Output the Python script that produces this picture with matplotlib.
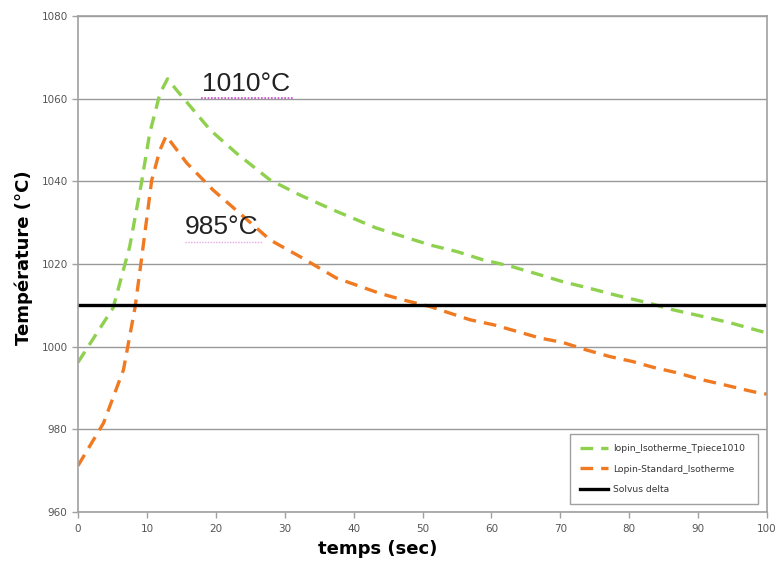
import matplotlib
matplotlib.use("Agg")
import matplotlib.pyplot as plt

plt.rcParams['font.family'] = ['DejaVu Sans']

# Data
t_green = [0, 5.1, 7.5, 9.2, 10.4, 11.9, 13.0, 14.3, 19.2, 23.0, 27.9, 32.2, 37.0, 43.3,
           51.1, 55.0, 58.8, 62.7, 66.6, 70.4, 74.3, 78.2, 82.5, 86.4, 90.7, 94.6, 100]
T_green = [996.2, 1009.4, 1024.2, 1039.5, 1051.6, 1061.3, 1064.8, 1062.1, 1052.4, 1046.8,
           1040.3, 1036.7, 1033.1, 1028.7, 1024.6, 1023.0, 1021.0, 1019.5, 1017.6, 1015.7,
           1014.1, 1012.4, 1010.7, 1008.9, 1007.3, 1005.8, 1003.3]

t_orange = [0, 3.7, 6.6, 8.3, 9.2, 10.7, 11.9, 12.8, 15.8, 19.6, 24.0, 27.9, 32.2, 37.5,
            43.8, 47.2, 51.1, 54.0, 56.9, 60.3, 63.7, 67.0, 70.4, 73.8, 77.2, 80.5, 83.5,
            86.9, 90.3, 93.7, 98.0, 100]
T_orange = [971.2, 981.5, 994.4, 1009.7, 1021.0, 1040.3, 1047.6, 1051.0, 1044.4, 1037.9,
            1031.5, 1025.8, 1021.8, 1016.6, 1012.9, 1011.3, 1009.7, 1008.1, 1006.5, 1005.3,
            1003.7, 1002.1, 1001.0, 999.2, 997.6, 996.4, 995.0, 993.7, 992.1, 990.8, 989.1,
            988.5]

solvus_t = [0, 100]
solvus_T = [1010, 1010]

labels = ["lopin_Isotherme_Tpiece1010", "Lopin-Standard_Isotherme", "Solvus delta"]
x_ticks = list(range(0, 101, 10))
y_ticks = list(range(960, 1081, 20))

fig = plt.figure(figsize=(7.77, 5.62), dpi=100)
ax = fig.add_axes([78/777, 1-512/562, 689/777, 496/562])

ax.set_xlim(0, 100)
ax.set_ylim(960, 1080)
ax.set_xticks(x_ticks)
ax.set_yticks(y_ticks)
ax.yaxis.grid(True, color='#999999', lw=1.0)
ax.set_axisbelow(True)
for s in ax.spines.values():
    s.set_color('#a0a0a0')
    s.set_linewidth(1.2)
ax.tick_params(axis='both', colors='#a0a0a0', labelcolor='#555555', labelsize=7.5,
               length=4, width=1)
ax.tick_params(axis='x', pad=5)

gl, = ax.plot(t_green, T_green, color='#8fd14f', lw=2.4, ls=(0, (3.8, 2.4)),
              label=labels[0])
ol, = ax.plot(t_orange, T_orange, color='#f07a22', lw=2.4, ls=(0, (3.8, 2.4)),
              label=labels[1])
sl, = ax.plot(solvus_t, solvus_T, color='black', lw=2.4, label=labels[2])

ax.set_xlabel("temps (sec)", fontsize=13, fontweight='bold', labelpad=3)
ax.xaxis.set_label_coords((378-78)/689, -0.057)
ax.set_ylabel("Température (°C)", fontsize=13, fontweight='bold', labelpad=8)
ax.yaxis.set_label_coords(-0.065, (512-258)/496)

ann_font = ['Liberation Sans', 'DejaVu Sans']
ax.text(24.4, 1063.6, "1010°C", fontsize=19, ha='center', va='center', color='#222222',
        family=ann_font)
ax.text(20.9, 1029.0, "985°C", fontsize=19, ha='center', va='center', color='#222222',
        family=ann_font)
ax.plot([17.8, 31.2], [1060.2, 1060.2], color='#cc44cc', lw=1.2, ls=(0, (1, 1)))
ax.plot([15.5, 26.7], [1025.4, 1025.4], color='#e8a8e8', lw=1.0, ls=(0, (1, 1)))

leg = ax.legend(handles=[gl, ol, sl], loc='lower right',
                bbox_to_anchor=(0.714, 0.016, 0.273, 0.141), mode='expand',
                borderaxespad=0, fontsize=6.6, frameon=True, fancybox=False,
                edgecolor='#888888', handlelength=3.0, borderpad=1.1,
                labelspacing=1.25, handletextpad=0.6)
leg.get_frame().set_linewidth(1.0)
for txt in leg.get_texts():
    txt.set_color('#333333')

fig.savefig("out.png", dpi=100)
